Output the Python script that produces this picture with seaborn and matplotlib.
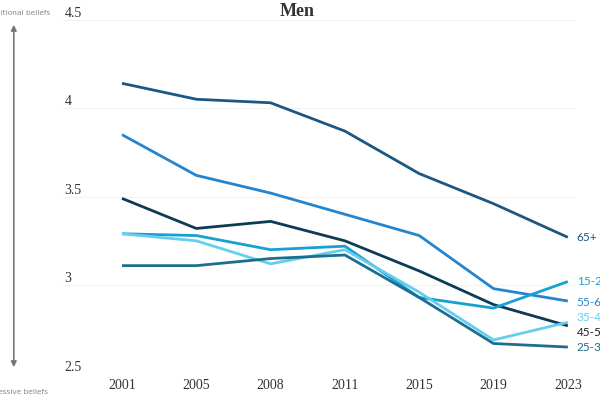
import numpy as np
import pandas as pd
import matplotlib
matplotlib.use('Agg')
import matplotlib.pyplot as plt
import seaborn as sns

years = ['2001', '2005', '2008', '2011', '2015', '2019', '2023']
groups = ['65+', '55-64', '45-54', '15-24', '35-44', '25-34']

age_65 = [4.14, 4.05, 4.03, 3.87, 3.63, 3.46, 3.27]
age_55_64 = [3.85, 3.62, 3.52, 3.40, 3.28, 2.98, 2.91]
age_45_54 = [3.49, 3.32, 3.36, 3.25, 3.08, 2.89, 2.77]
age_15_24 = [3.29, 3.28, 3.20, 3.22, 2.93, 2.87, 3.02]
age_35_44 = [3.29, 3.25, 3.12, 3.20, 2.96, 2.69, 2.79]
age_25_34 = [3.11, 3.11, 3.15, 3.17, 2.93, 2.67, 2.65]

colors = ['#1b5785', '#2384d0', '#0d3b56', '#18a0d2', '#66cdef', '#1d6e8e']

series = [age_65, age_55_64, age_45_54, age_15_24, age_35_44, age_25_34]
df = pd.DataFrame({
    'year': years * len(groups),
    'x': list(range(len(years))) * len(groups),
    'score': np.concatenate(series),
    'group': np.repeat(groups, len(years)),
})

sns.set_style('white')
fig = plt.figure(figsize=(6, 4), dpi=100)
ax = fig.add_axes([0.103, 0.066, 0.857, 0.885])

sns.lineplot(data=df, x='x', y='score', hue='group', hue_order=groups,
             palette=colors, linewidth=2, legend=False, ax=ax,
             solid_joinstyle='round', solid_capstyle='butt')

ax.set_xlim(-0.81, 6.11)
ax.set_ylim(2.5, 4.5)
ax.set_xticks(range(len(years)))
ax.set_xticklabels(years, family='Liberation Serif', fontsize=10, color='#333333')
ax.set_yticks([2.5, 3, 3.5, 4, 4.5])
ax.set_yticklabels(['2.5', '3', '3.5', '4', '4.5'], family='Liberation Serif',
                   fontsize=10, color='#333333')
for lab in ax.get_yticklabels():
    lab.set_ha('left')
    lab.set_va('bottom')
ax.tick_params(axis='y', length=0, pad=-2)
ax.tick_params(axis='x', length=0, pad=4)
ax.grid(axis='y', color='#f3f3f3', linewidth=0.8)
ax.set_axisbelow(True)
for s in ax.spines.values():
    s.set_visible(False)
ax.set_xlabel('')
ax.set_ylabel('')

# end labels
label_y = {'65+': 3.27, '15-24': 3.02, '55-64': 2.90, '35-44': 2.815, '45-54': 2.73, '25-34': 2.645}
for g, c in zip(groups, colors):
    ax.text(6.12, label_y[g], g, color=c if g != '45-54' else '#222222',
            fontsize=8.5, va='center', ha='left', clip_on=False, family='Lato')

fig.text(0.495, 0.972, 'Men', ha='center', va='center', family='Liberation Serif',
         fontsize=13, fontweight='bold', color='#333333')

# left beliefs arrow
ax.annotate('', xy=(0.023, 0.945), xytext=(0.023, 0.075), xycoords='figure fraction',
            textcoords='figure fraction',
            arrowprops=dict(arrowstyle='<|-|>', color='#777777', lw=1.2,
                            mutation_scale=8))
fig.text(0.083, 0.967, 'Traditional beliefs', ha='right', va='center',
         fontsize=5.3, color='#888888')
fig.text(0.080, 0.02, 'Progressive beliefs', ha='right', va='center',
         fontsize=5.3, color='#888888')

fig.savefig('out.png', dpi=100)
